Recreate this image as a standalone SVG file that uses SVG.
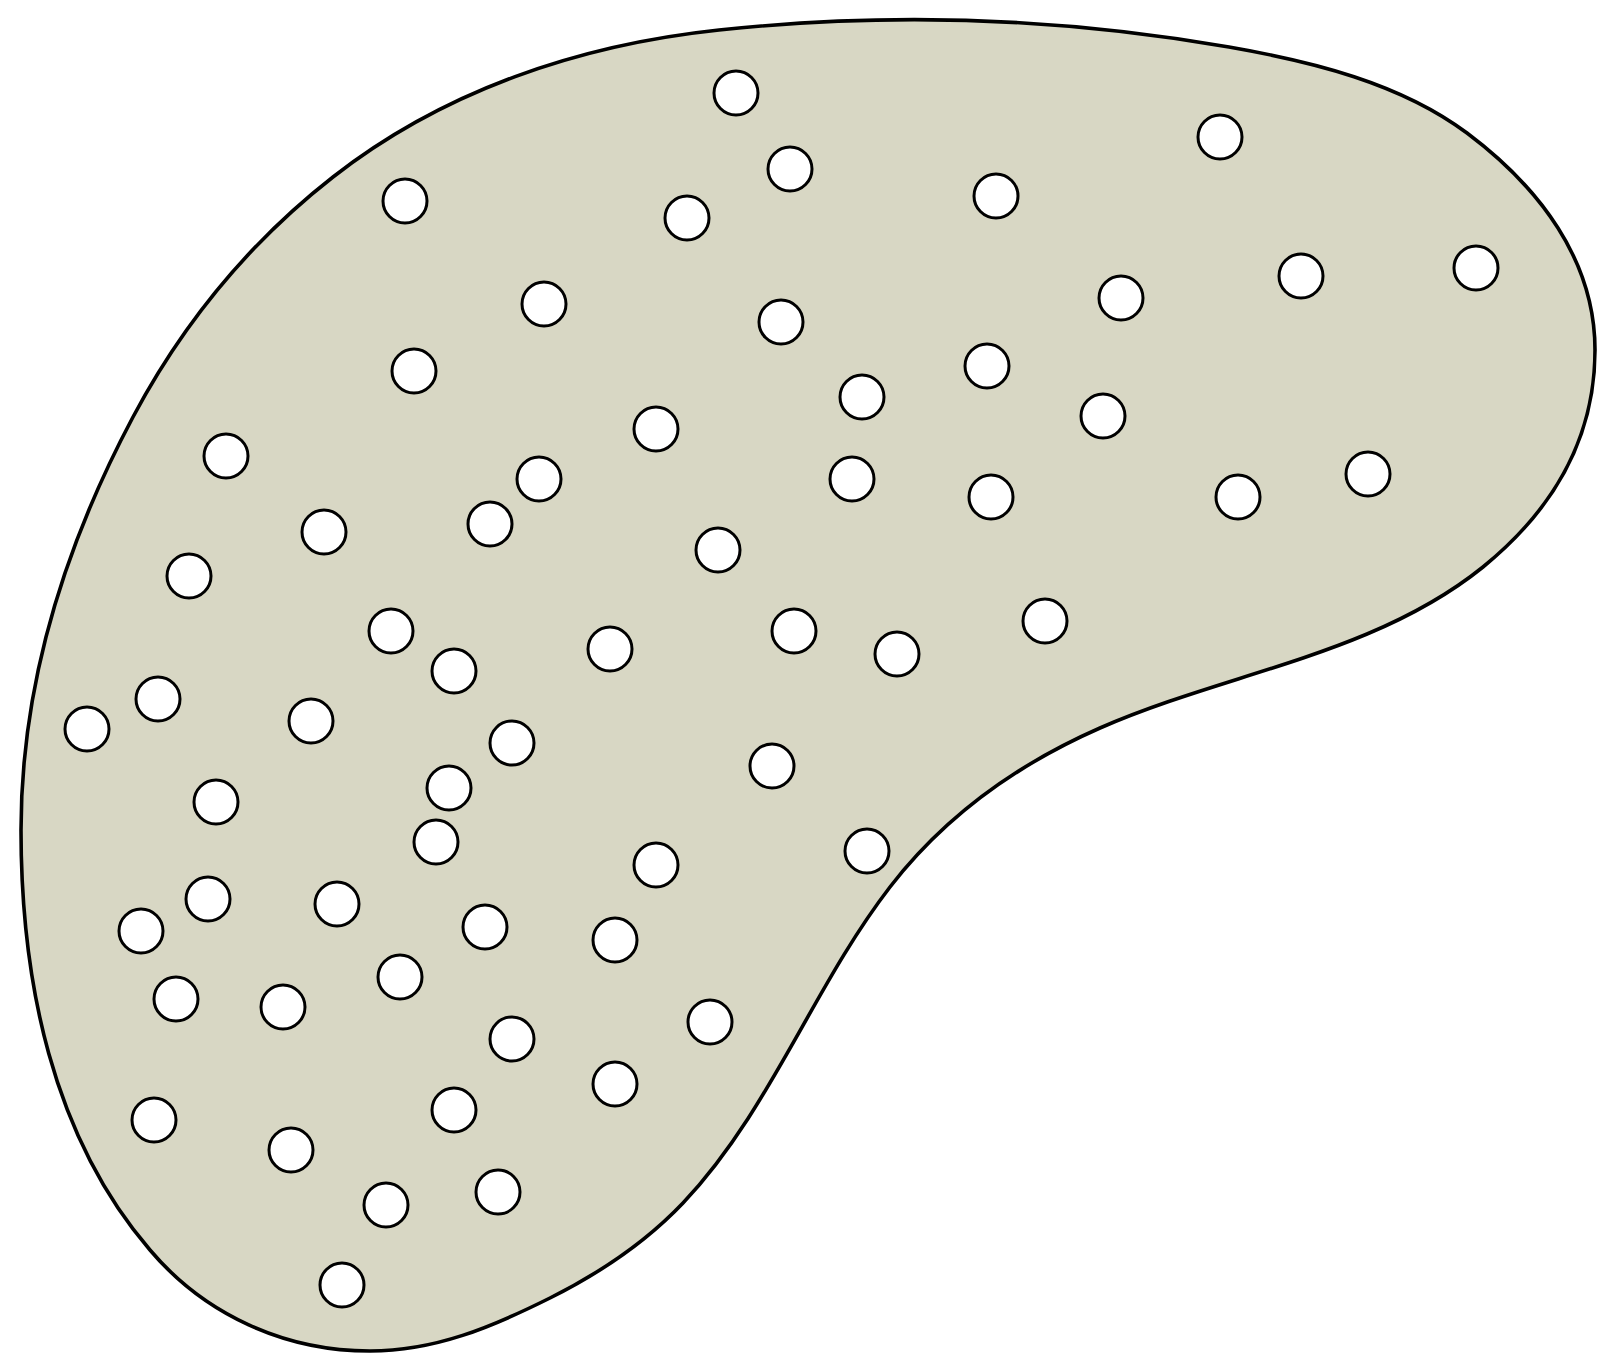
<svg xmlns="http://www.w3.org/2000/svg" width="1597" height="1354" viewBox="0 0 1597 1354">
<style>
.blob{fill:#D8D7C4;stroke:#000;stroke-width:3.6}
.dot{fill:#fff;stroke:#000;stroke-width:3}
</style>
<rect width="1597" height="1354" fill="#fff"/>
<g id="region">
<path class="blob" d="M719,30 C889,12 1060.7,17.6 1229,47 C1312,61.5 1400,83 1467,133 C1539,187 1595,260 1595,350 C1595,440 1553,510 1483,567 C1374,655 1228,672 1100,728 C1018,764 945,816 890,887 C813,987 770,1111 683,1203 C645,1243 600,1273 550,1298 C492,1327 435,1351 370,1351 C285,1351 205,1315 150,1250 C52,1136 21,980 21,830 C21,685 65,545 133,417 C182.3,324.3 250.3,241.6 333,177 C443.6,90.6 579.5,44.7 719,30 Z"/>
</g>
<g id="points">
<circle class="dot" cx="736" cy="93" r="22"/>
<circle class="dot" cx="1220" cy="137" r="22"/>
<circle class="dot" cx="790" cy="169" r="22"/>
<circle class="dot" cx="405" cy="201" r="22"/>
<circle class="dot" cx="687" cy="218" r="22"/>
<circle class="dot" cx="996" cy="196" r="22"/>
<circle class="dot" cx="1476" cy="268" r="22"/>
<circle class="dot" cx="1301" cy="276" r="22"/>
<circle class="dot" cx="544" cy="304" r="22"/>
<circle class="dot" cx="1121" cy="298" r="22"/>
<circle class="dot" cx="781" cy="322" r="22"/>
<circle class="dot" cx="414" cy="371" r="22"/>
<circle class="dot" cx="987" cy="366" r="22"/>
<circle class="dot" cx="862" cy="397" r="22"/>
<circle class="dot" cx="1103" cy="416" r="22"/>
<circle class="dot" cx="656" cy="429" r="22"/>
<circle class="dot" cx="226" cy="456" r="22"/>
<circle class="dot" cx="539" cy="479" r="22"/>
<circle class="dot" cx="852" cy="479" r="22"/>
<circle class="dot" cx="1368" cy="474" r="22"/>
<circle class="dot" cx="991" cy="497" r="22"/>
<circle class="dot" cx="1238" cy="497" r="22"/>
<circle class="dot" cx="324" cy="532" r="22"/>
<circle class="dot" cx="490" cy="524" r="22"/>
<circle class="dot" cx="718" cy="550" r="22"/>
<circle class="dot" cx="189" cy="576" r="22"/>
<circle class="dot" cx="391" cy="631" r="22"/>
<circle class="dot" cx="1045" cy="621" r="22"/>
<circle class="dot" cx="794" cy="631" r="22"/>
<circle class="dot" cx="610" cy="649" r="22"/>
<circle class="dot" cx="897" cy="654" r="22"/>
<circle class="dot" cx="454" cy="671" r="22"/>
<circle class="dot" cx="158" cy="699" r="22"/>
<circle class="dot" cx="87" cy="729" r="22"/>
<circle class="dot" cx="311" cy="721" r="22"/>
<circle class="dot" cx="512" cy="743" r="22"/>
<circle class="dot" cx="772" cy="766" r="22"/>
<circle class="dot" cx="449" cy="788" r="22"/>
<circle class="dot" cx="216" cy="802" r="22"/>
<circle class="dot" cx="436" cy="842" r="22"/>
<circle class="dot" cx="867" cy="851" r="22"/>
<circle class="dot" cx="656" cy="865" r="22"/>
<circle class="dot" cx="208" cy="899" r="22"/>
<circle class="dot" cx="337" cy="904" r="22"/>
<circle class="dot" cx="141" cy="931" r="22"/>
<circle class="dot" cx="485" cy="927" r="22"/>
<circle class="dot" cx="615" cy="940" r="22"/>
<circle class="dot" cx="400" cy="977" r="22"/>
<circle class="dot" cx="176" cy="999" r="22"/>
<circle class="dot" cx="283" cy="1007" r="22"/>
<circle class="dot" cx="710" cy="1022" r="22"/>
<circle class="dot" cx="512" cy="1039" r="22"/>
<circle class="dot" cx="615" cy="1084" r="22"/>
<circle class="dot" cx="454" cy="1110" r="22"/>
<circle class="dot" cx="154" cy="1120" r="22"/>
<circle class="dot" cx="291" cy="1150" r="22"/>
<circle class="dot" cx="498" cy="1192" r="22"/>
<circle class="dot" cx="386" cy="1205" r="22"/>
<circle class="dot" cx="342" cy="1285" r="22"/>
</g>
</svg>
